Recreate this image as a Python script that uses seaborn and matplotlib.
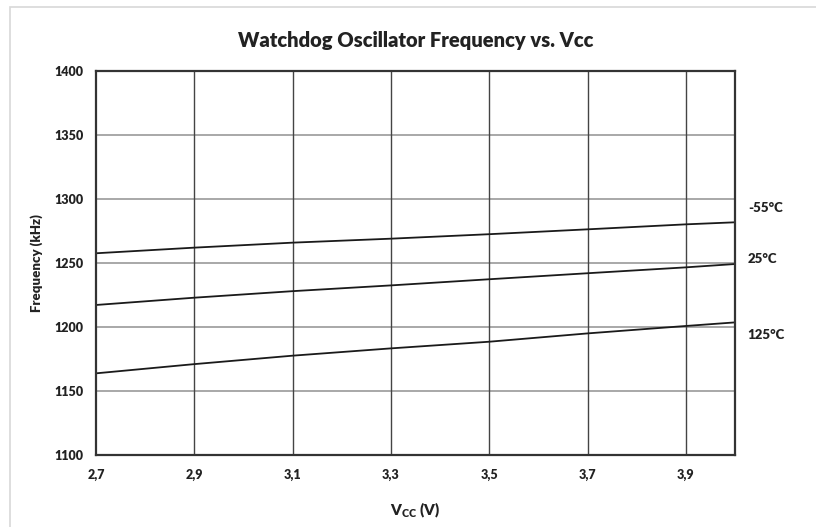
import matplotlib
matplotlib.use("Agg")
import matplotlib.pyplot as plt
import seaborn as sns
import pandas as pd
from matplotlib.patches import Rectangle

vcc = [2.7, 2.9, 3.1, 3.3, 3.5, 3.7, 3.9, 4.0]
f_m55 = [1257.6, 1262.0, 1265.9, 1269.0, 1272.5, 1276.3, 1280.2, 1281.8]
f_25 = [1217.2, 1222.9, 1228.0, 1232.5, 1237.3, 1242.0, 1246.6, 1249.2]
f_125 = [1163.8, 1171.0, 1177.6, 1183.3, 1188.5, 1195.0, 1200.8, 1203.6]
series_names = ["-55°C", "25°C", "125°C"]
xticks = [2.7, 2.9, 3.1, 3.3, 3.5, 3.7, 3.9]
xtick_labels = ["2,7", "2,9", "3,1", "3,3", "3,5", "3,7", "3,9"]
yticks = [1100, 1150, 1200, 1250, 1300, 1350, 1400]

rows = []
for name, vals in zip(series_names, [f_m55, f_25, f_125]):
    for x, y in zip(vcc, vals):
        rows.append({"Vcc": x, "Freq": y, "Temp": name})
df = pd.DataFrame(rows)

sns.set_style("white")
plt.rcParams["font.family"] = ["Lato", "DejaVu Sans"]

fig = plt.figure(figsize=(8.16, 5.27), dpi=100)
ax = fig.add_axes([96/816, 1-455/527, (735-96)/816, (455-71)/527])

# figure border
fig.patches.append(Rectangle((10/816, -0.01), 1.0, 1-7/527+0.01, transform=fig.transFigure,
                             fill=False, edgecolor="#d8d8d8", linewidth=1.2))

sns.lineplot(data=df, x="Vcc", y="Freq", hue="Temp", palette=["#1a1a1a"]*3,
             legend=False, ax=ax, linewidth=1.3, estimator=None)

ax.set_xlim(2.7, 4.0)
ax.set_ylim(1100, 1400)
ax.set_xticks(xticks)
ax.set_xticklabels(xtick_labels)
ax.set_yticks(yticks)
ax.set_yticklabels([str(t) for t in yticks])
for lbl in ax.get_xticklabels() + ax.get_yticklabels():
    lbl.set_fontweight("heavy")
    lbl.set_fontsize(9)
    lbl.set_color("#222222")
ax.tick_params(axis="both", length=0)
ax.tick_params(axis="y", pad=9)
ax.tick_params(axis="x", pad=10)

ax.grid(False)
for t in yticks[1:-1]:
    ax.axhline(t, color="#a8a8a8", linewidth=1.4, zorder=0)
for t in xticks[1:]:
    ax.axvline(t, color="#444444", linewidth=1.0, zorder=0)

for s in ax.spines.values():
    s.set_visible(True)
    s.set_color("#333333")
    s.set_linewidth(1.6)

ax.set_xlabel("V$_{\\mathregular{CC}}$ (V)", fontsize=11, fontweight="heavy", color="#222222", labelpad=14)
ax.set_ylabel("Frequency (kHz)", fontsize=9.5, fontweight="heavy", color="#222222", labelpad=8)
fig.text((96+735)/2/816, 1-40/527, "Watchdog Oscillator Frequency vs. Vcc",
         ha="center", va="center", fontsize=14.5, fontweight="heavy", color="#222222")

label_y = [1293, 1253, 1194]
for name, yv in zip(series_names, label_y):
    ax.text(4.026, yv, name, ha="left", va="center", fontsize=9.5, fontweight="heavy",
            color="#222222", clip_on=False)

fig.savefig("out.png", dpi=100)
